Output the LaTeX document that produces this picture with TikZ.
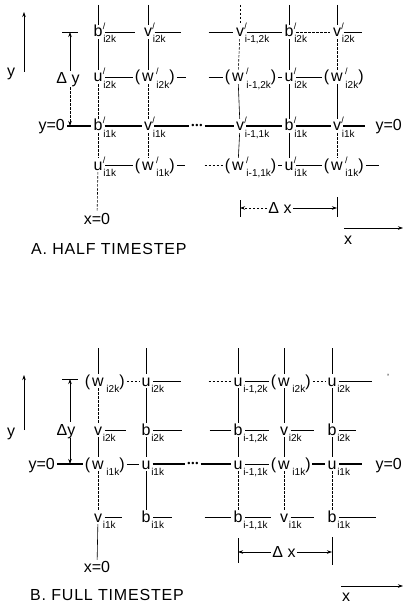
\documentclass[tikz,border=0pt]{standalone}
\usepackage{fontspec}
\setmainfont{Liberation Sans}
\newfontfamily\capfont[LetterSpace=5]{Liberation Sans}
\usetikzlibrary{arrows.meta}
\newcommand{\pp}{\rlap{\hspace{0.4pt}\raisebox{7pt}{\fontsize{9}{9}\selectfont /}}}
\newcommand{\sbx}[1]{\rlap{\hspace{0.8pt}\raisebox{-6pt}{\fontsize{10}{10}\selectfont #1}}}
\newcommand{\sbn}[1]{\hspace{0.8pt}\raisebox{-6pt}{\fontsize{10}{10}\selectfont #1}}
\tikzset{
 lt/.style={inner sep=1pt, text height=10pt, text depth=0pt, font=\fontsize{16}{16}\selectfont},
 pl/.style={inner sep=0.5pt, font=\fontsize{16}{16}\selectfont},
 hl/.style={line width=0.6pt, shorten <=1.5pt, shorten >=1.5pt},
 vl/.style={line width=0.6pt, shorten <=1pt, shorten >=1pt},
 dl/.style={dash pattern=on 2.5pt off 1.5pt},
 tk/.style={line width=1.8pt, shorten <=1pt, shorten >=1pt},
 dim/.style={line width=0.6pt},
 tip/.style={-{Stealth[length=5pt,width=3.5pt]}},
 dotst/.style={inner sep=1pt, font=\fontsize{9}{9}\selectfont},
 capst/.style={anchor=west, inner sep=0pt, font=\capfont\fontsize{16}{16}\selectfont},
}
\newcommand{\wnode}[5]{%
 \node[lt] (#1) at (#2,#3) {w};
 \node[pl, anchor=base east] (#1l) at (#1.base west) {(};
 \node[pl, anchor=base west] (#1r) at (#1.base east) {#4\sbn{#5})};
}
\begin{document}
\begin{tikzpicture}[x=1pt,y=-1pt]
\useasboundingbox (0,0) rectangle (404,607);

% ================= A. HALF TIMESTEP =================
\coordinate (tA1) at (98,4); \coordinate (tA2) at (148,4); \coordinate (tA3) at (240,4);
\coordinate (tA4) at (289,4); \coordinate (tA5) at (337,4);
% row 1
\node[lt] (bA12) at (98,32) {b\pp\sbx{i2k}};
\node[lt] (vA22) at (148,32) {v\pp\sbx{i2k}};
\node[lt] (vA32) at (240,32) {v\pp\sbx{i-1,2k}};
\node[lt] (bA42) at (289,32) {b\pp\sbx{i2k}};
\node[lt] (vA52) at (337,32) {v\pp\sbx{i2k}};
% row 2
\node[lt] (uA1m) at (98,77) {u\pp\sbx{i2k}};
\wnode{wA2m}{148}{77}{\pp}{i2k}
\wnode{wA3m}{238}{77}{\pp}{i-1,2k}
\node[lt] (uA4m) at (289,77) {u\pp\sbx{i2k}};
\wnode{wA5m}{337}{77}{\pp}{i2k}
% row 3 (y=0)
\node[lt, anchor=east] (y0A) at (66,126) {y=0};
\node[lt] (bA11) at (98,126) {b\pp\sbx{i1k}};
\node[lt] (vA21) at (148,126) {v\pp\sbx{i1k}};
\node[dotst] (dotsA) at (197,126) {•\kern0.8pt•\kern0.8pt•};
\node[lt] (vA31) at (240,126) {v\pp\sbx{i-1,1k}};
\node[lt] (bA41) at (289,126) {b\pp\sbx{i1k}};
\node[lt] (vA51) at (337,126) {v\pp\sbx{i1k}};
\node[lt, anchor=east] (y0Ar) at (403,126) {y=0};
% row 4
\node[lt] (uA1b) at (98,165) {u\pp\sbx{i1k}};
\wnode{wA2b}{148}{165}{\pp}{i1k}
\wnode{wA3b}{238}{165}{\pp}{i-1,1k}
\node[lt] (uA4b) at (289,165) {u\pp\sbx{i1k}};
\wnode{wA5b}{337}{165}{\pp}{i1k}
\node[lt] (x0A) at (97,219) {x=0};

% verticals A
\draw[vl] (tA1) -- (bA12); \draw[vl] (bA12) -- (uA1m);
\draw[vl,dl] (uA1m) -- (bA11); \draw[vl,dl] (bA11) -- (uA1b); \draw[vl,dl] (uA1b) -- (x0A);
\draw[vl] (tA2) -- (vA22); \draw[vl] (vA22) -- (wA2m);
\draw[vl,dl] (wA2m) -- (vA21); \draw[vl,dl] (vA21) -- (wA2b);
\draw[vl,dl] (tA3) -- (vA32); \draw[vl,dl] (vA32) -- (wA3m);
\draw[vl] (wA3m) -- (vA31); \draw[vl] (vA31) -- (wA3b);
\draw[vl] (tA4) -- (bA42); \draw[vl] (bA42) -- (uA4m);
\draw[vl,line width=1pt] (uA4m) -- (bA41); \draw[vl] (bA41) -- (uA4b);
\draw[vl] (tA5) -- (vA52); \draw[vl,dl] (vA52) -- (wA5m);
\draw[vl] (wA5m) -- (vA51); \draw[vl,dl] (vA51) -- (wA5b);

% horizontals A
\coordinate (eA1) at (182,32); \coordinate (sA1) at (207,32); \coordinate (eA1r) at (363,32);
\draw[hl, shorten >=8pt] (bA12) -- (vA22);
\draw[hl] (vA22) -- (eA1);
\draw[hl] (sA1) -- (vA32);
\draw[hl] (vA32) -- (bA42);
\draw[hl,dl] (bA42) -- (vA52);
\draw[hl] (vA52) -- (eA1r);

\coordinate (eA2) at (187,77); \coordinate (sA2) at (207,77);
\draw[hl] (uA1m) -- (wA2ml.west |- wA2m);
\draw[hl] (wA2mr.east |- wA2m) -- (eA2);
\draw[hl] (sA2) -- (wA3ml.west |- wA3m);
\draw[hl] (wA3mr.east |- wA3m) -- (uA4m);
\draw[hl] (uA4m) -- (wA5ml.west |- wA5m);

\draw[tk] (y0A) -- (bA11);
\draw[tk, line width=1.2pt] (bA11) -- (vA21);
\draw[tk] (vA21) -- (dotsA);
\draw[tk] (dotsA) -- (vA31);
\draw[tk] (vA31) -- (bA41);
\draw[tk] (bA41) -- (vA51);
\draw[tk, shorten >=9pt] (vA51) -- (y0Ar);

\coordinate (eA4) at (186,165); \coordinate (sA4) at (203,165); \coordinate (eA4r) at (380,165);
\draw[hl] (uA1b) -- (wA2bl.west |- wA2b);
\draw[hl] (wA2br.east |- wA2b) -- (eA4);
\draw[hl,dl] (sA4) -- (wA3bl.west |- wA3b);
\draw[hl] (wA3br.east |- wA3b) -- (uA4b);
\draw[hl] (uA4b) -- (wA5bl.west |- wA5b);
\draw[hl] (wA5br.east |- wA5b) -- (eA4r);

% dimensions A
\coordinate (yAb) at (24,72); \coordinate (yAt) at (24,12);
\draw[dim, tip] (yAb) -- (yAt);
\node[lt] (yA) at (11,72) {y};
\coordinate (dyAt) at (70,32); \coordinate (dyAb) at (70,126);
\coordinate (dyAl) at (62,32); \coordinate (dyAr) at (78,32);
\node[lt] (dyA) at (68,79) {Δ y};
\draw[dim] (dyAl) -- (dyAr);
\draw[dim, tip, shorten <=2pt] (dyAt |- dyA.north) -- (dyAt);
\draw[dim, dl, tip, shorten <=2pt] (dyAb |- dyA.south) -- (dyAb);
\coordinate (dxAl1) at (240,200); \coordinate (dxAl2) at (240,217);
\coordinate (dxAr1) at (337,197); \coordinate (dxAr2) at (337,217);
\coordinate (dxAlm) at (240,208); \coordinate (dxArm) at (337,208);
\draw[dim] (dxAl1) -- (dxAl2); \draw[dim] (dxAr1) -- (dxAr2);
\node[lt] (dxA) at (280,208) {Δ x};
\draw[dim, dl, tip] (dxA) -- (dxAlm);
\draw[dim, tip] (dxA) -- (dxArm);
\coordinate (xAs) at (344,228); \coordinate (xAe) at (403,228);
\draw[dim, tip] (xAs) -- (xAe);
\node[lt] (xA) at (348,239) {x};
\node[capst] (capA) at (31,249) {A. HALF TIMESTEP};

% ================= B. FULL TIMESTEP =================
\coordinate (tB1) at (98,347); \coordinate (tB2) at (146,347); \coordinate (tB3) at (238,347);
\coordinate (tB4) at (284,347); \coordinate (tB5) at (332,347);
% row 1
\wnode{wB1t}{98}{381}{}{i2k}
\node[lt] (uB2t) at (146,381) {u\sbx{i2k}};
\node[lt] (uB3t) at (238,381) {u\sbx{i-1,2k}};
\wnode{wB4t}{284}{381}{}{i2k}
\node[lt] (uB5t) at (332,381) {u\sbx{i2k}};
% row 2
\node[lt] (vB1m) at (98,430) {v\sbx{i2k}};
\node[lt] (bB2m) at (146,430) {b\sbx{i2k}};
\node[lt] (bB3m) at (238,430) {b\sbx{i-1,2k}};
\node[lt] (vB4m) at (284,430) {v\sbx{i2k}};
\node[lt] (bB5m) at (332,430) {b\sbx{i2k}};
% row 3 (y=0)
\node[lt, anchor=east] (y0B) at (56,464) {y=0};
\wnode{wB1b}{98}{464}{}{i1k}
\node[lt] (uB2b) at (146,464) {u\sbx{i1k}};
\node[dotst] (dotsB) at (193,464) {•\kern0.8pt•\kern0.8pt•};
\node[lt] (uB3b) at (238,464) {u\sbx{i-1,1k}};
\wnode{wB4b}{284}{464}{}{i1k}
\node[lt] (uB5b) at (332,464) {u\sbx{i1k}};
\node[lt, anchor=east] (y0Br) at (403,464) {y=0};
% row 4
\node[lt] (vB1b) at (98,517) {v\sbx{i1k}};
\node[lt] (bB2b) at (146,517) {b\sbx{i1k}};
\node[lt] (bB3b) at (238,517) {b\sbx{i-1,1k}};
\node[lt] (vB4b) at (284,517) {v\sbx{i1k}};
\node[lt] (bB5b) at (332,517) {b\sbx{i1k}};
\node[lt] (x0B) at (97,567) {x=0};

% verticals B
\draw[vl] (tB1) -- (wB1t); \draw[vl,dl] (wB1t) -- (vB1m); \draw[vl] (vB1m) -- (wB1b);
\draw[vl,dl] (wB1b) -- (vB1b); \draw[vl] (vB1b) -- (x0B);
\draw[vl] (tB2) -- (uB2t); \draw[vl] (uB2t) -- (bB2m); \draw[vl] (bB2m) -- (uB2b); \draw[vl] (uB2b) -- (bB2b);
\draw[vl] (tB3) -- (uB3t); \draw[vl] (uB3t) -- (bB3m); \draw[vl] (bB3m) -- (uB3b); \draw[vl,dl] (uB3b) -- (bB3b);
\draw[vl] (tB4) -- (wB4t); \draw[vl] (wB4t) -- (vB4m); \draw[vl] (vB4m) -- (wB4b); \draw[vl,dl] (wB4b) -- (vB4b);
\draw[vl] (tB5) -- (uB5t); \draw[vl] (uB5t) -- (bB5m); \draw[vl] (bB5m) -- (uB5b); \draw[vl,dl] (uB5b) -- (bB5b);

% horizontals B
\coordinate (eB1) at (182,381); \coordinate (sB1) at (207,381); \coordinate (eB1r) at (373,381);
\draw[hl,dl] (wB1tr.east |- wB1t) -- (uB2t);
\draw[hl] (uB2t) -- (eB1);
\draw[hl,dl] (sB1) -- (uB3t);
\draw[hl] (uB3t) -- (wB4tl.west |- wB4t);
\draw[hl,dl] (wB4tr.east |- wB4t) -- (uB5t);
\draw[hl] (uB5t) -- (eB1r);
\node[inner sep=0pt, font=\fontsize{9}{9}\selectfont] (tickB) at (388,377) {'};

\coordinate (eB2) at (183,430); \coordinate (sB2) at (208,430); \coordinate (eB2r) at (357,430);
\draw[hl, shorten >=14pt] (vB1m) -- (bB2m);
\draw[hl] (bB2m) -- (eB2);
\draw[hl] (sB2) -- (bB3m);
\draw[hl, shorten >=10pt] (bB3m) -- (vB4m);
\draw[hl, shorten >=12pt] (vB4m) -- (bB5m);
\draw[hl] (bB5m) -- (eB2r);

\coordinate (eB3) at (363,464);
\draw[tk] (y0B) -- (wB1bl.west |- wB1b);
\draw[hl] (wB1br.east |- wB1b) -- (uB2b);
\draw[tk] (uB2b) -- (dotsB);
\draw[tk] (dotsB) -- (uB3b);
\draw[hl, line width=1pt] (uB3b) -- (wB4bl.west |- wB4b);
\draw[tk] (wB4br.east |- wB4b) -- (uB5b);
\draw[hl, line width=1.2pt] (uB5b) -- (eB3);

\coordinate (eB4) at (173,517); \coordinate (sB4) at (203,517); \coordinate (eB4r) at (377,517);
\draw[hl, shorten >=18pt] (vB1b) -- (bB2b);
\draw[hl] (bB2b) -- (eB4);
\draw[hl] (sB4) -- (bB3b);
\draw[hl, shorten >=8pt] (bB3b) -- (vB4b);
\draw[hl, shorten >=12pt] (vB4b) -- (bB5b);
\draw[hl] (bB5b) -- (eB4r);

% dimensions B
\coordinate (yBb) at (24,430); \coordinate (yBt) at (24,375);
\draw[dim, tip] (yBb) -- (yBt);
\node[lt] (yB) at (11,431) {y};
\coordinate (dyBt) at (70,379); \coordinate (dyBb) at (70,464);
\coordinate (dyBl) at (62,379); \coordinate (dyBr) at (78,379);
\node[lt] (dyB) at (66,430) {Δy};
\draw[dim] (dyBl) -- (dyBr);
\draw[dim, tip, shorten <=2pt] (dyBt |- dyB.north) -- (dyBt);
\draw[dim, tip, shorten <=2pt] (dyBb |- dyB.south) -- (dyBb);
\coordinate (dxBl1) at (238,538); \coordinate (dxBl2) at (238,563);
\coordinate (dxBr1) at (332,537); \coordinate (dxBr2) at (332,565);
\coordinate (dxBlm) at (238,552); \coordinate (dxBrm) at (332,552);
\draw[dim] (dxBl1) -- (dxBl2); \draw[dim] (dxBr1) -- (dxBr2);
\node[lt] (dxB) at (284,552) {Δ x};
\draw[dim, tip] (dxB) -- (dxBlm);
\draw[dim, tip] (dxB) -- (dxBrm);
\coordinate (xBs) at (341,586); \coordinate (xBe) at (403,586);
\draw[dim, tip] (xBs) -- (xBe);
\node[lt] (xB) at (346,596) {x};
\node[capst] (capB) at (30,595) {B. FULL TIMESTEP};
\end{tikzpicture}
\end{document}
